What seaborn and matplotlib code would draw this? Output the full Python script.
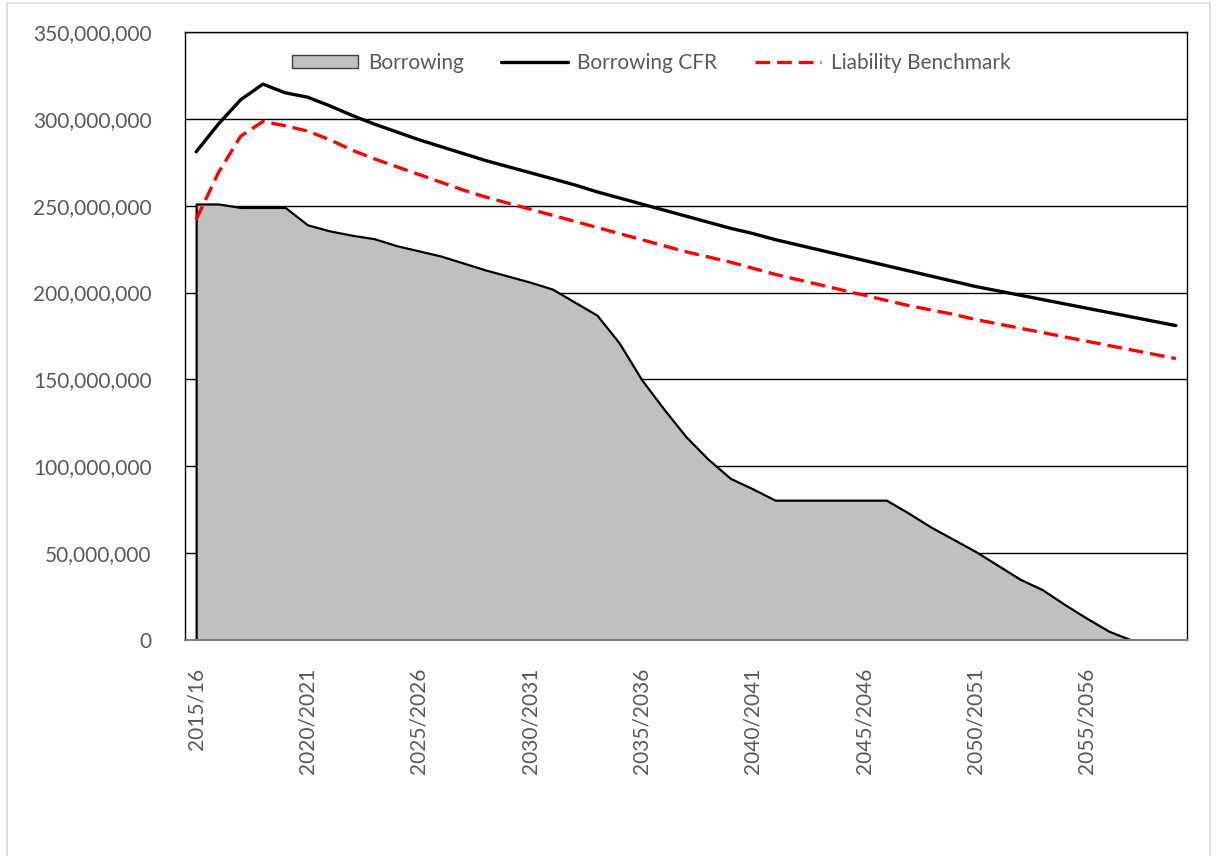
import matplotlib
matplotlib.use("Agg")
import matplotlib.pyplot as plt
import matplotlib.ticker as mticker
from matplotlib.patches import Patch, Rectangle
from matplotlib.lines import Line2D
import seaborn as sns
import pandas as pd
import numpy as np

# Financial years on the category axis
years = ["2015/16", "2016/17", "2017/18", "2018/19", "2019/20",
         "2020/2021", "2021/2022", "2022/2023", "2023/2024", "2024/2025",
         "2025/2026", "2026/2027", "2027/2028", "2028/2029", "2029/2030",
         "2030/2031", "2031/2032", "2032/2033", "2033/2034", "2034/2035",
         "2035/2036", "2036/2037", "2037/2038", "2038/2039", "2039/2040",
         "2040/2041", "2041/2042", "2042/2043", "2043/2044", "2044/2045",
         "2045/2046", "2046/2047", "2047/2048", "2048/2049", "2049/2050",
         "2050/2051", "2051/2052", "2052/2053", "2053/2054", "2054/2055",
         "2055/2056", "2056/2057", "2057/2058", "2058/2059", "2059/2060"]

# values in millions (borrowing ends once it is repaid)
borrowing = [251, 251, 249, 249, 249, 239, 235.5, 233, 231, 227, 224, 221, 217, 213, 209.5,
             206, 202, 194.5, 187, 171, 150, 133, 117, 104, 93,
             87, 80.5, 80.5, 80.5, 80.5, 80.5, 80.5, 73, 65, 58,
             51, 43, 35, 29, 20.5, 12.5, 5, 0, None, None]
borrowing_cfr = [281, 297, 311, 320, 315, 312.5, 307.5, 302, 297, 292.5, 288, 284, 280, 276, 272.5,
                 269, 265.5, 262, 258, 254.5, 251, 247.5, 244, 240.5, 237,
                 234, 230.5, 227.5, 224.5, 221.5, 218.5, 215.5, 212.5, 209.5, 206.5,
                 203.5, 201, 198.5, 196, 193.5, 191, 188.5, 186, 183.5, 181]
liability_benchmark = [242, 269, 290, 298.5, 296, 293, 288, 282, 277, 272.5, 268, 263.5, 259, 255, 251.5,
                       248, 244.5, 241, 237.5, 234, 230.5, 227, 223.5, 220.5, 217.5,
                       214, 210.5, 207.5, 204.5, 201.5, 198.5, 195.5, 192.5, 190, 187.5,
                       184.5, 182, 179.5, 177, 174.5, 172, 169.5, 167, 164.5, 162]

df = pd.DataFrame({
    "idx": np.arange(len(years)),
    "Borrowing": np.array(borrowing, dtype=float) * 1e6,
    "Borrowing CFR": np.array(borrowing_cfr) * 1e6,
    "Liability Benchmark": np.array(liability_benchmark) * 1e6,
})

sns.set_style("white")
plt.rcParams["font.family"] = ["Lato", "DejaVu Sans"]

fig = plt.figure(figsize=(12.18, 8.56), dpi=100)
ax = fig.add_axes([185 / 1218, 1 - 640 / 856, 1002 / 1218, 608 / 856])

# Gridlines behind everything
ax.set_axisbelow(True)
ax.yaxis.grid(True, color="black", linewidth=1.0)

# Borrowing area
area = df.dropna(subset=["Borrowing"])
ax.fill_between(area["idx"], area["Borrowing"], 0, facecolor="#c0c0c0", edgecolor="black",
                linewidth=1.6, zorder=2)

sns.lineplot(data=df, x="idx", y="Borrowing CFR", color="black", linewidth=2.4, ax=ax, zorder=3)
sns.lineplot(data=df, x="idx", y="Liability Benchmark", color="#ff0000", linewidth=2.4,
             ax=ax, zorder=4)
ax.lines[-1].set_dashes((4.4, 2.1))

ax.set_xlim(-0.5, len(years) - 0.5)
ax.set_ylim(0, 350e6)
ax.yaxis.set_major_locator(mticker.MultipleLocator(50e6))
ax.yaxis.set_major_formatter(mticker.FuncFormatter(lambda v, p: f"{int(v):,}"))

tick_pos = list(range(0, len(years), 5))
ax.set_xticks(tick_pos)
ax.set_xticklabels([years[i] for i in tick_pos], rotation=90, va="top", ha="center")

ax.set_xlabel("")
ax.set_ylabel("")
ax.tick_params(axis="both", length=0, labelsize=15, colors="#595959")
ax.tick_params(axis="y", pad=24)
ax.tick_params(axis="x", pad=20)

for side in ["top", "left", "right"]:
    ax.spines[side].set_color("black")
    ax.spines[side].set_linewidth(1.0)
ax.spines["bottom"].set_color("#808080")
ax.spines["bottom"].set_linewidth(1.5)

handles = [
    Patch(facecolor="#c0c0c0", edgecolor="#404040", linewidth=1.0),
    Line2D([0], [0], color="black", linewidth=2.4),
    Line2D([0], [0], color="#ff0000", linewidth=2.4, dashes=(4.4, 2.1)),
]
leg = ax.legend(handles, ["Borrowing", "Borrowing CFR", "Liability Benchmark"],
                loc="center", bbox_to_anchor=(0.465, 0.949), ncol=3, frameon=False,
                fontsize=15, handlelength=3.2, handleheight=0.6, handletextpad=0.45,
                columnspacing=1.8)
for t in leg.get_texts():
    t.set_color("#595959")

# light outer chart border
fig.patches.append(Rectangle((7 / 1218, -0.01), 1203 / 1218, 1 - 3 / 856 + 0.01,
                             transform=fig.transFigure, fill=False,
                             edgecolor="#d9d9d9", linewidth=1.2))

fig.savefig("out.png", dpi=100, facecolor="white")
